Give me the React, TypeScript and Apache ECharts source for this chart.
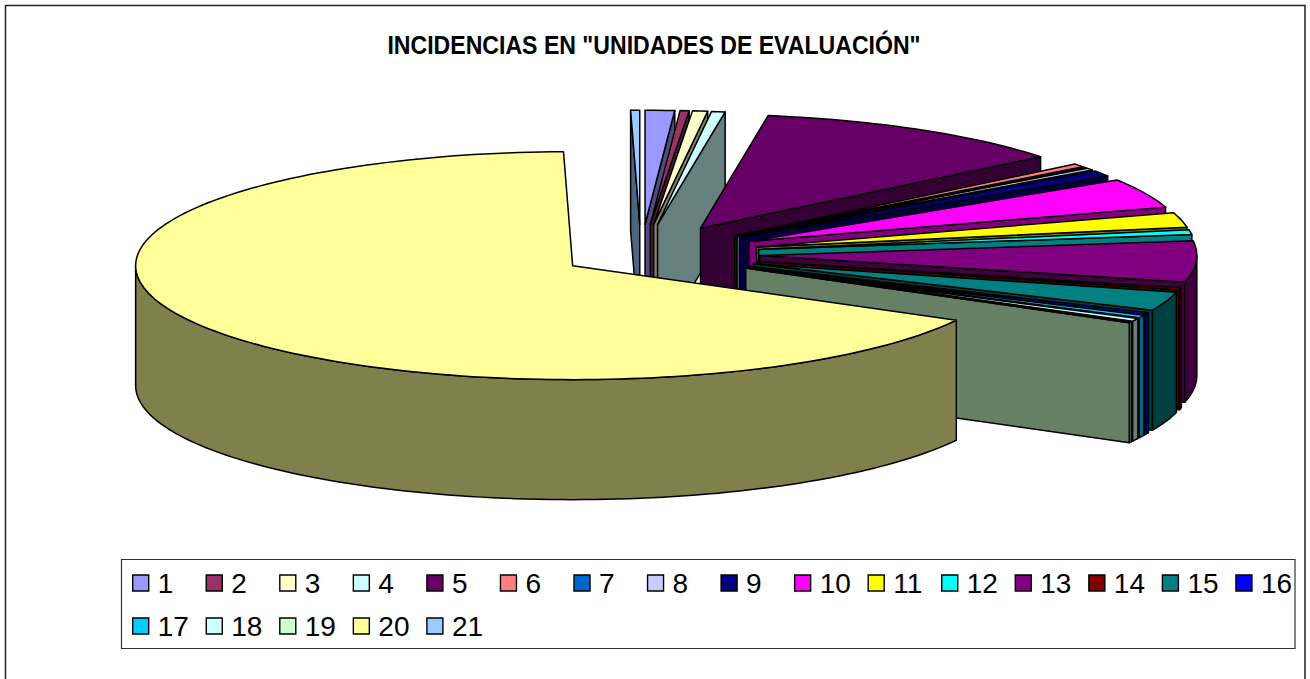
import React, { useEffect, useRef } from "react";
import * as echarts from "echarts";

const titleText = 'INCIDENCIAS EN "UNIDADES DE EVALUACIÓN"';
const categories = ["1","2","3","4","5","6","7","8","9","10","11","12","13","14","15","16","17","18","19","20","21"];
const values = [3.9,1.2,2,1.8,42.2,1.7,0.4,1.2,3,15.1,7.5,2.5,21,1,9.5,1.1,1.4,1.5,0.6,240.2,1.2];
const colors = ["#9999FF","#993366","#FFFFCC","#CCFFFF","#660066","#FF8080","#0066CC","#CCCCFF","#000080","#FF00FF","#FFFF00","#00FFFF","#800080","#800000","#008080","#0000FF","#00CCFF","#CCFFFF","#CCFFCC","#FFFF99","#99CCFF"];
// Draw order, back to front
const drawOrder = [20,0,1,2,3,4,5,6,7,8,9,10,11,12,13,14,15,16,17,18,19];

const CX = 641, CY = 254, RX = 437, RY = 114, DEPTH = 120;
const EXPLODE = 119, EXPLODE_MAIN = 80, EXPLODE_Y = 0.25, EXPLODE_Y_MAIN = 0.28;

const total = values.reduce((a, b) => a + b, 0);
const starts: number[] = [];
values.reduce((acc, v, i) => { starts[i] = acc; return acc + v; }, 0);

function dim(hex: string) {
  const n = parseInt(hex.slice(1), 16);
  const f = (c: number) => Math.round(c * 0.5).toString(16).padStart(2, "0");
  return "#" + f((n >> 16) & 255) + f((n >> 8) & 255) + f(n & 255);
}

function sliceShapes(i: number) {
  const k = 360 / total;
  const t0 = starts[i] * k, t1 = (starts[i] + values[i]) * k;
  const mid = ((t0 + t1) / 2) * Math.PI / 180;
  const main = i === 19;
  const e = main ? EXPLODE_MAIN : EXPLODE;
  const ax = CX + e * Math.sin(mid);
  const ay = CY - e * (main ? EXPLODE_Y_MAIN : EXPLODE_Y) * Math.cos(mid);
  const pt = (deg: number, d = 0) => {
    const r = deg * Math.PI / 180;
    return [ax + RX * Math.sin(r), ay - RY * Math.cos(r) + d];
  };
  const arc = (a: number, b: number, d = 0) => {
    const out: number[][] = [];
    const n = Math.max(1, Math.ceil((b - a) / 1.5));
    for (let j = 0; j <= n; j++) out.push(pt(a + (b - a) * j / n, d));
    return out;
  };
  const fill = colors[i], side = dim(fill);
  const stroke = { stroke: "#000", lineWidth: 1.5, lineJoin: "round" };
  const poly = (points: number[][], c: string) => ({ type: "polygon", shape: { points }, style: { fill: c, ...stroke } });
  const children: any[] = [];
  const s0 = Math.sin(t0 * Math.PI / 180), s1 = Math.sin(t1 * Math.PI / 180);
  if (s0 < 0) children.push(poly([[ax, ay], pt(t0), pt(t0, DEPTH), [ax, ay + DEPTH]], side));
  if (s1 > 0) children.push(poly([[ax, ay], pt(t1), pt(t1, DEPTH), [ax, ay + DEPTH]], side));
  const r0 = Math.max(t0, 90), r1 = Math.min(t1, 270);
  if (r1 > r0) children.push(poly([...arc(r0, r1), ...arc(r0, r1, DEPTH).reverse()], side));
  children.push(poly([[ax, ay], ...arc(t0, t1)], fill));
  return children;
}

const LEG_X0 = 132, LEG_PITCH = 73.55, LEG_Y = [569, 612], PER_ROW = 16;

export default function App() {
  const ref = useRef<HTMLDivElement>(null);
  useEffect(() => {
    const chart = echarts.init(ref.current!, undefined, { renderer: "svg" });
    chart.setOption({
      animation: false,
      backgroundColor: "#fff",
      legend: categories.map((c, i) => ({
        data: [c],
        left: LEG_X0 + LEG_PITCH * (i % PER_ROW),
        top: LEG_Y[Math.floor(i / PER_ROW)],
        padding: 0,
        itemWidth: 16, itemHeight: 16, itemGap: 0,
        icon: "rect",
        selectedMode: false,
        textStyle: { fontFamily: "'Liberation Sans', Arial", fontSize: 28, color: "#000", padding: [2, 0, 0, 4] },
        itemStyle: { borderColor: "#000", borderWidth: 1.4 },
      })),
      graphic: [
        { type: "rect", z: -10, silent: true, shape: { x: 5.5, y: 5.5, width: 1299.5, height: 680 }, style: { fill: "#fff", stroke: "#222", lineWidth: 1.5 } },
        { type: "rect", z: -9, silent: true, shape: { x: 121.5, y: 559.5, width: 1173.5, height: 89 }, style: { fill: "#fff", stroke: "#333", lineWidth: 1.2 } },
        {
          type: "text", z: 10, silent: true, x: 654, y: 45, scaleX: 0.888,
          style: { text: titleText, textAlign: "center", textVerticalAlign: "middle", fill: "#000", font: "bold 26px 'Liberation Sans', Arial" },
        },
      ],
      series: drawOrder.map((i) => ({
        type: "custom",
        name: categories[i],
        coordinateSystem: "none",
        itemStyle: { color: colors[i] },
        data: [values[i]],
        renderItem: () => ({ type: "group", children: sliceShapes(i) }),
      })),
    });
    return () => chart.dispose();
  }, []);
  return <div ref={ref} style={{ position: "absolute", left: 0, top: 0, width: 1310, height: 679 }} />;
}
